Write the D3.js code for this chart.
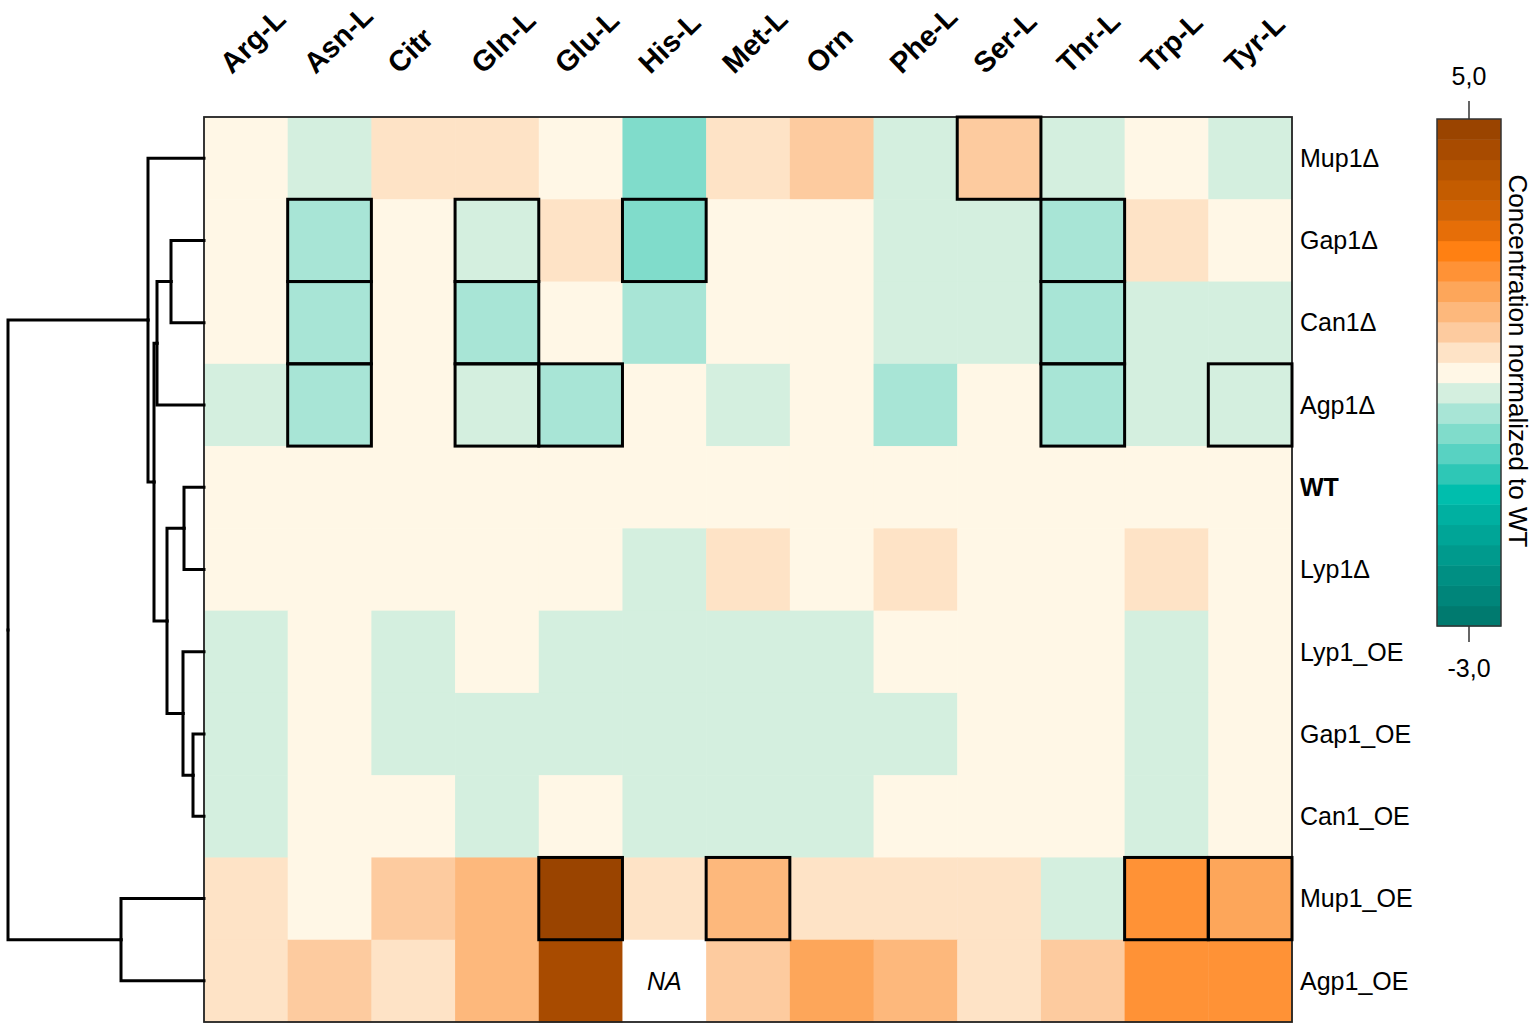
<!DOCTYPE html>
<html>
<head>
<meta charset="utf-8">
<script src="https://cdn.jsdelivr.net/npm/d3@7"></script>
<style>
  body { margin: 0; background: #fff; }
  text { font-family: "Liberation Sans", Arial, sans-serif; }
</style>
</head>
<body>
<div id="chart"></div>
<script>
// amino acids (columns) and strains (rows, in dendrogram order)
const aminoAcids = ["Arg-L", "Asn-L", "Citr", "Gln-L", "Glu-L", "His-L", "Met-L", "Orn", "Phe-L", "Ser-L", "Thr-L", "Trp-L", "Tyr-L"]
const strains = ["Mup1Δ", "Gap1Δ", "Can1Δ", "Agp1Δ", "WT", "Lyp1Δ", "Lyp1_OE", "Gap1_OE", "Can1_OE", "Mup1_OE", "Agp1_OE"]

// concentration normalized to WT, one array per strain (null = NA)
const mup1Del  = [1.00, 0.68, 1.32, 1.32, 1.00, 0.04, 1.32, 1.64, 0.68, 1.64, 0.68, 1.00, 0.68]
const gap1Del  = [1.00, 0.36, 1.00, 0.68, 1.32, 0.04, 1.00, 1.00, 0.68, 0.68, 0.36, 1.32, 1.00]
const can1Del  = [1.00, 0.36, 1.00, 0.36, 1.00, 0.36, 1.00, 1.00, 0.68, 0.68, 0.36, 0.68, 0.68]
const agp1Del  = [0.68, 0.36, 1.00, 0.68, 0.36, 1.00, 0.68, 1.00, 0.36, 1.00, 0.36, 0.68, 0.68]
const wt       = [1.00, 1.00, 1.00, 1.00, 1.00, 1.00, 1.00, 1.00, 1.00, 1.00, 1.00, 1.00, 1.00]
const lyp1Del  = [1.00, 1.00, 1.00, 1.00, 1.00, 0.68, 1.32, 1.00, 1.32, 1.00, 1.00, 1.32, 1.00]
const lyp1OE   = [0.68, 1.00, 0.68, 1.00, 0.68, 0.68, 0.68, 0.68, 1.00, 1.00, 1.00, 0.68, 1.00]
const gap1OE   = [0.68, 1.00, 0.68, 0.68, 0.68, 0.68, 0.68, 0.68, 0.68, 1.00, 1.00, 0.68, 1.00]
const can1OE   = [0.68, 1.00, 1.00, 0.68, 1.00, 0.68, 0.68, 0.68, 1.00, 1.00, 1.00, 0.68, 1.00]
const mup1OE   = [1.32, 1.00, 1.64, 1.96, 4.84, 1.32, 1.96, 1.32, 1.32, 1.32, 0.68, 2.60, 2.28]
const agp1OE   = [1.32, 1.64, 1.32, 1.96, 4.52, null, 1.64, 2.28, 1.96, 1.32, 1.64, 2.60, 2.60]
const values = [mup1Del, gap1Del, can1Del, agp1Del, wt, lyp1Del, lyp1OE, gap1OE, can1OE, mup1OE, agp1OE]

// significant cells [strain, amino acid]
const significant = [
  ["Mup1Δ", "Ser-L"],
  ["Gap1Δ", "Asn-L"], ["Gap1Δ", "Gln-L"], ["Gap1Δ", "His-L"], ["Gap1Δ", "Thr-L"],
  ["Can1Δ", "Asn-L"], ["Can1Δ", "Gln-L"], ["Can1Δ", "Thr-L"],
  ["Agp1Δ", "Asn-L"], ["Agp1Δ", "Gln-L"], ["Agp1Δ", "Glu-L"], ["Agp1Δ", "Thr-L"], ["Agp1Δ", "Tyr-L"],
  ["Mup1_OE", "Glu-L"], ["Mup1_OE", "Met-L"], ["Mup1_OE", "Trp-L"], ["Mup1_OE", "Tyr-L"]
]

// row clustering (merge heights)
const tree = {h: 196, children: [
  {h: 56, children: [
    {name: "Mup1Δ"},
    {h: 50, children: [
      {h: 47, children: [
        {h: 33, children: [{name: "Gap1Δ"}, {name: "Can1Δ"}]},
        {name: "Agp1Δ"}]},
      {h: 37, children: [
        {h: 20, children: [{name: "WT"}, {name: "Lyp1Δ"}]},
        {h: 21, children: [
          {name: "Lyp1_OE"},
          {h: 11, children: [{name: "Gap1_OE"}, {name: "Can1_OE"}]}]}]}]}]},
  {h: 83, children: [{name: "Mup1_OE"}, {name: "Agp1_OE"}]}
]}

// legend
const legendDomain = [-3, 5]
const legendTicks = ["-3,0", "5,0"]
const bandColours = [
  "#007a6f", "#00857a", "#008f83", "#009a8d", "#00a597", "#00b0a1", "#00bead",
  "#2ec7b6", "#58d2c2", "#80dccb", "#a8e5d6", "#d4efdf",
  "#fff7e6",
  "#fee3c6", "#fdcb9f", "#fdb87c", "#fda65a", "#ff9236", "#ff8012",
  "#e66e08", "#d16304", "#c45c00", "#b55400", "#a84b00", "#9a4400"
]

const width = 1535, height = 1030
const svg = d3.select("#chart").append("svg")
    .attr("width", width)
    .attr("height", height)

const plotLeft = 204, plotRight = 1292, plotTop = 117, plotBottom = 1022

let x = d3.scaleBand().domain(aminoAcids).range([plotLeft, plotRight])
let y = d3.scaleBand().domain(strains).range([plotTop, plotBottom])
let colour = d3.scaleQuantize().domain(legendDomain).range(bandColours)

// cells
let cells = []
values.forEach((row, i) => row.forEach((v, j) => cells.push({strain: strains[i], aa: aminoAcids[j], v: v})))

svg.append("g").selectAll("rect")
    .data(cells)
    .join("rect")
    .attr("x", d => x(d.aa))
    .attr("y", d => y(d.strain))
    .attr("width", x.bandwidth() + 0.5)
    .attr("height", y.bandwidth() + 0.5)
    .attr("fill", d => d.v === null ? "#ffffff" : colour(d.v))

svg.append("g").selectAll("text")
    .data(cells.filter(d => d.v === null))
    .join("text")
    .attr("x", d => x(d.aa) + x.bandwidth() / 2)
    .attr("y", d => y(d.strain) + y.bandwidth() / 2)
    .attr("dy", "0.35em")
    .attr("text-anchor", "middle")
    .style("font-style", "italic")
    .style("font-size", "25px")
    .text("NA")

// frame
svg.append("rect")
    .attr("x", plotLeft).attr("y", plotTop)
    .attr("width", plotRight - plotLeft).attr("height", plotBottom - plotTop)
    .attr("fill", "none")
    .attr("stroke", "#222")
    .attr("stroke-width", 1.8)

// significance boxes
svg.append("g").selectAll("rect")
    .data(significant)
    .join("rect")
    .attr("x", d => x(d[1]))
    .attr("y", d => y(d[0]))
    .attr("width", x.bandwidth())
    .attr("height", y.bandwidth())
    .attr("fill", "none")
    .attr("stroke", "#000")
    .attr("stroke-width", 3)

// column labels
svg.append("g").selectAll("text")
    .data(aminoAcids)
    .join("text")
    .attr("transform", d => "translate(" + (x(d) + x.bandwidth() / 2 - 14) + ",75) rotate(-44)")
    .style("font-weight", "bold")
    .style("font-size", "29px")
    .text(d => d)

// row labels
svg.append("g").selectAll("text")
    .data(strains)
    .join("text")
    .attr("x", plotRight + 8)
    .attr("y", d => y(d) + y.bandwidth() / 2)
    .attr("dy", "0.35em")
    .style("font-size", "25px")
    .style("font-weight", d => d === "WT" ? "bold" : "normal")
    .text(d => d)

// dendrogram
let hx = d3.scaleLinear().domain([0, 196]).range([plotLeft, 8])
let root = d3.hierarchy(tree)
root.eachAfter(n => {
  if (!n.children) { n.px = plotLeft; n.py = y(n.data.name) + y.bandwidth() / 2 }
  else {
    n.px = hx(n.data.h)
    n.py = d3.mean(n.children, c => c.py)
  }
})
let links = []
root.each(n => { if (n.children) n.children.forEach(c => links.push([n, c])) })
svg.append("g").selectAll("path")
    .data(links)
    .join("path")
    .attr("d", d => "M" + d[0].px + "," + d[0].py + "V" + d[1].py + "H" + d[1].px)
    .attr("fill", "none")
    .attr("stroke", "#000")
    .attr("stroke-width", 3)
    .attr("stroke-linecap", "square")

// colour key
const keyX = 1437, keyW = 64, keyTop = 119, keyBottom = 626
let ky = d3.scaleLinear().domain(legendDomain).range([keyBottom, keyTop])
let step = (legendDomain[1] - legendDomain[0]) / bandColours.length
let key = svg.append("g")
key.selectAll("rect")
    .data(bandColours)
    .join("rect")
    .attr("x", keyX)
    .attr("y", (d, i) => ky(legendDomain[0] + (i + 1) * step))
    .attr("width", keyW)
    .attr("height", (d, i) => ky(legendDomain[0] + i * step) - ky(legendDomain[0] + (i + 1) * step) + 0.5)
    .attr("fill", d => d)
key.append("rect")
    .attr("x", keyX).attr("y", keyTop)
    .attr("width", keyW).attr("height", keyBottom - keyTop)
    .attr("fill", "none")
    .attr("stroke", "#333")
    .attr("stroke-width", 1.5)

let kx = keyX + keyW / 2
key.selectAll("line.tick")
    .data(legendDomain)
    .join("line")
    .attr("class", "tick")
    .attr("x1", kx).attr("x2", kx)
    .attr("y1", d => ky(d))
    .attr("y2", d => d === legendDomain[1] ? ky(d) - 18 : ky(d) + 16)
    .attr("stroke", "#333")
    .attr("stroke-width", 1.5)
key.selectAll("text.tick")
    .data(legendDomain)
    .join("text")
    .attr("class", "tick")
    .attr("x", kx)
    .attr("y", d => d === legendDomain[1] ? ky(d) - 34 : ky(d) + 51)
    .attr("text-anchor", "middle")
    .style("font-size", "25px")
    .text((d, i) => legendTicks[i])

svg.append("text")
    .attr("transform", "translate(1509,361) rotate(90)")
    .attr("text-anchor", "middle")
    .style("font-size", "26px")
    .text("Concentration normalized to WT")
</script>
</body>
</html>
